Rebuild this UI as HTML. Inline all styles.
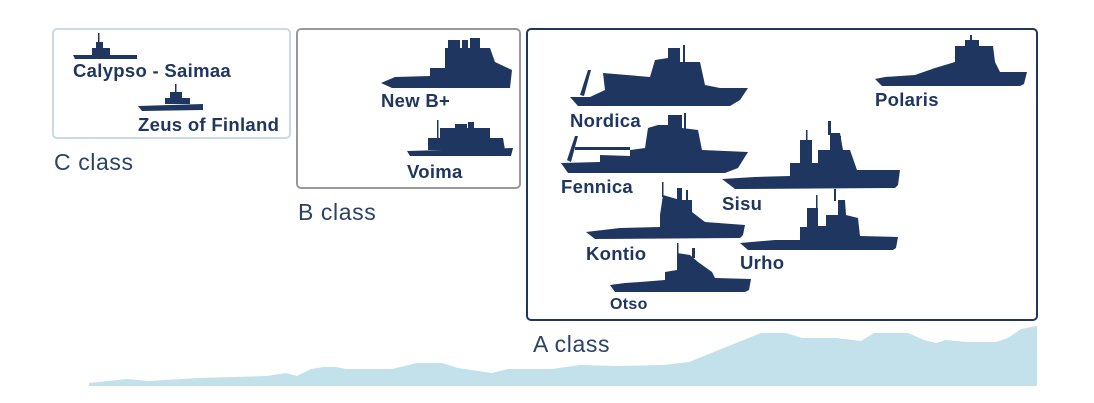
<!DOCTYPE html>
<html><head><meta charset="utf-8"><style>
html,body{margin:0;padding:0;background:#fff}
svg{display:block}
.l{font-family:"Liberation Sans",sans-serif;font-weight:bold;fill:#1e3660;font-size:18.5px;letter-spacing:0.3px}
.c{font-family:"Liberation Sans",sans-serif;fill:#2a4266;font-size:23px;letter-spacing:0.6px}
.s{fill:#1e3660}
</style></head><body>
<svg width="1094" height="403" viewBox="0 0 1094 403">
<polygon fill="#c2e1ea" points="89,386 89,383 108,381 127,379 149,381 199,378 267,376 286,373 297,376 311,369 324,367 336,367 346,369 392,369 417,363 442,363 458,368 492,373 508,369 552,369 580,365 617,366 664,365 689,362 761,333 786,333 802,338 836,338 861,341 874,333 908,333 924,340 936,343 946,340 967,342 996,342 1008,338 1021,329 1037,326 1037,386"/>
<rect x="53" y="29" width="237" height="109" rx="4" fill="none" stroke="#c9d9e5" stroke-width="2"/>
<rect x="297" y="29" width="223" height="159" rx="4" fill="none" stroke="#999" stroke-width="2"/>
<rect x="527" y="29" width="510" height="291" rx="4" fill="none" stroke="#1e3660" stroke-width="2"/>
<text class="c" x="54" y="170">C class</text>
<text class="c" x="298" y="220">B class</text>
<text class="c" x="533" y="352">A class</text>
<g class="s">
<path d="M73,55 L137,55 L137,59 L75,59 Z M92,48 L110,48 L110,55 L92,55 Z M96,42 L103,42 L103,48 L96,48 Z M98,33 h1.5 v10 h-1.5 Z"/>
<path d="M138,106 L203,104 L203,110 L142,111 Z M165,98 L190,98 L190,104 L165,104 Z M170,92 L182,92 L182,98 L170,98 Z M175,84 h1.5 v9 h-1.5 Z"/>
<path d="M381,83 L395,77 L430,76 L430,68 L445,68 L445,48 L490,48 L495,62 L512,70 L510,88 L392,88 Z M448,40 h12 v9 h-12 Z M462,40 h6 v8 h-6 Z M470,38 h10 v10 h-10 Z"/>
<path d="M407,151 L513,148 L511,156 L410,156 Z M428,138 L503,138 L505,150 L428,150 Z M440,128 L490,128 L490,138 L440,138 Z M455,124 h12 v6 h-12 Z M437,120 h1.5 v18 h-1.5 Z M468,122 h6 v8 h-6 Z"/>
<path d="M570,97 L590,97 L605,90 L603,73 L650,77 L655,60 L668,58 L668,48 L680,48 L680,62 L700,62 L705,85 L720,88 L748,88 L740,100 L730,106 L578,106 Z M580,95 L588,70 L591,70 L584,96 Z M683,45 h2 v30 h-2 Z"/>
<path d="M561,163 L600,162 L600,155 L630,156 L630,150 L645,148 L648,128 L658,125 L668,125 L668,115 L682,115 L682,128 L698,130 L702,150 L748,152 L738,168 L725,173 L568,173 Z M567,160 L575,136 L578,136 L571,162 Z M575,147 L630,147 L630,150 L575,150 Z M684,113 h2 v30 h-2 Z"/>
<path d="M875,79 L885,77 L915,75 L935,68 L955,62 L955,46 L993,46 L995,62 L1000,72 L1027,72 L1024,84 L1020,86 L882,86 Z M965,40 h14 v7 h-14 Z M970,35 h2 v8 h-2 Z"/>
<path d="M722,179 L755,177 L790,176 L790,163 L800,163 L800,140 L812,140 L812,163 L818,163 L818,150 L830,150 L830,133 L840,133 L843,150 L850,150 L857,170 L900,170 L898,185 L895,188 L735,189 Z M828,121 h3 v14 h-3 Z M806,130 h1.5 v12 h-1.5 Z M835,136 h6 v3 h-6 Z"/>
<path d="M586,232 L620,228 L660,227 L660,215 L663,195 L680,200 L692,200 L692,212 L705,222 L745,225 L743,235 L740,238 L595,239 Z M662,182 h1.5 v15 h-1.5 Z M677,188 h5 v12 h-5 Z M686,190 h2 v12 h-2 Z"/>
<path d="M740,243 L775,240 L800,240 L800,227 L807,227 L807,208 L818,208 L818,226 L826,226 L826,215 L838,215 L838,200 L845,200 L846,215 L858,218 L860,236 L898,237 L896,248 L893,250 L748,250 Z M816,195 h1.5 v14 h-1.5 Z M834,189 h2 v12 h-2 Z"/>
<path d="M610,285 L625,283 L640,282 L665,280 L665,272 L677,270 L677,253 L690,255 L698,262 L712,272 L715,278 L751,279 L749,290 L745,292 L615,292 Z M677,243 h1.5 v12 h-1.5 Z M692,248 h3 v10 h-3 Z"/>
</g>
<text class="l" x="73" y="77">Calypso - Saimaa</text>
<text class="l" x="138" y="131">Zeus of Finland</text>
<text class="l" x="381" y="107">New B+</text>
<text class="l" x="407" y="178">Voima</text>
<text class="l" x="570" y="127">Nordica</text>
<text class="l" x="875" y="106">Polaris</text>
<text class="l" x="561" y="193">Fennica</text>
<text class="l" x="722" y="210">Sisu</text>
<text class="l" x="586" y="260">Kontio</text>
<text class="l" x="740" y="269">Urho</text>
<text class="l" x="610" y="309" style="font-size:16px">Otso</text>
</svg>
</body></html>
